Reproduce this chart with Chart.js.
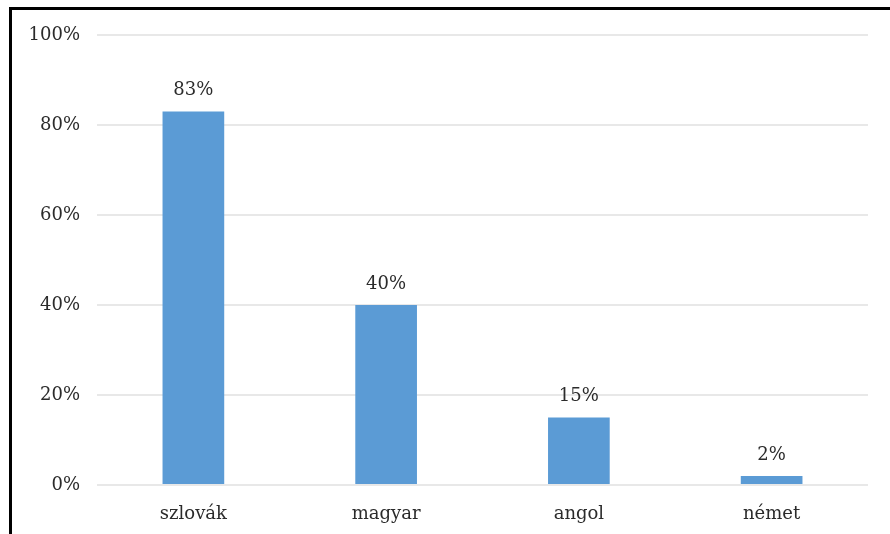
<!DOCTYPE html>
<html>
<head>
<meta charset="utf-8">
<script src="https://cdn.jsdelivr.net/npm/chart.js@4"></script>
<style>
  html, body { margin: 0; padding: 0; background: #fff; }
  #wrap { width: 890px; height: 534px; position: relative; }
</style>
</head>
<body>
<div id="wrap"><canvas id="canvas" width="890" height="534"></canvas></div>
<script>
var nyelvek = ['szlovák', 'magyar', 'angol', 'német'];
var szazalek = [83, 40, 15, 2];
var tengelyJelek = [0, 20, 40, 60, 80, 100];

var betu = { family: '"DejaVu Serif", "Liberation Serif", serif', size: 18 };
var szin = '#2b2b2b';

// keret bal es felul
var keret = {
    id: 'keret',
    afterDraw: function (chart) {
        var ctx = chart.ctx;
        ctx.save();
        ctx.fillStyle = '#000';
        ctx.fillRect(9, 7, 881, 3);
        ctx.fillRect(9, 7, 3, 527);
        ctx.restore();
    }
};

// szazalekok a hasabok folott
var cimkek = {
    id: 'cimkek',
    afterDatasetsDraw: function (chart) {
        var ctx = chart.ctx;
        var meta = chart.getDatasetMeta(0);
        ctx.save();
        ctx.font = betu.size + 'px ' + betu.family;
        ctx.fillStyle = szin;
        ctx.textAlign = 'center';
        ctx.textBaseline = 'middle';
        meta.data.forEach(function (bar, i) {
            ctx.fillText(szazalek[i] + '%', bar.x, bar.y - 21);
        });
        ctx.restore();
    }
};

var ctx = document.getElementById('canvas').getContext('2d');
var grafikon = new Chart(ctx, {
    type: 'bar',
    data: {
        labels: nyelvek,
        datasets: [{
            data: szazalek,
            backgroundColor: '#5b9bd5',
            borderWidth: 0,
            categoryPercentage: 1,
            barPercentage: 0.32
        }]
    },
    options: {
        responsive: false,
        animation: false,
        layout: { padding: { top: 35, right: 22, left: 0, bottom: 0 } },
        plugins: { legend: { display: false }, tooltip: { enabled: false } },
        scales: {
            x: {
                grid: { display: false, drawTicks: false },
                border: { display: false },
                ticks: { color: szin, font: betu, padding: 19 },
                afterFit: function (s) { s.height = 49; }
            },
            y: {
                min: 0,
                max: 100,
                afterBuildTicks: function (s) {
                    s.ticks = tengelyJelek.map(function (v) { return { value: v }; });
                },
                grid: { color: '#e8e8e8', lineWidth: 2, drawTicks: false },
                border: { display: false },
                ticks: {
                    color: szin,
                    font: betu,
                    padding: 17,
                    callback: function (v) { return v + '%'; }
                },
                afterFit: function (s) { s.width = 97; }
            }
        }
    },
    plugins: [keret, cimkek]
});
</script>
</body>
</html>
